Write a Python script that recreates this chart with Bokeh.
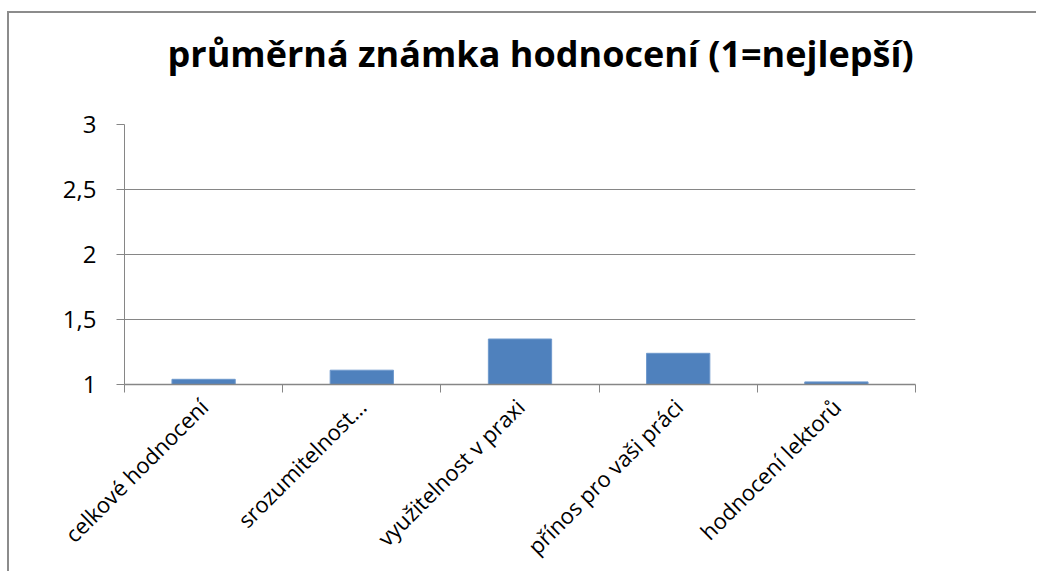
from bokeh.plotting import figure
from bokeh.models import FixedTicker, CustomJSTickFormatter, Range1d, Title
from bokeh.embed import file_html
from bokeh.resources import INLINE
import math

categories = ["celkové hodnocení", "srozumitelnost…", "využitelnost v praxi",
              "přínos pro vaši práci", "hodnocení lektorů"]
values = [1.04, 1.11, 1.35, 1.24, 1.02]
y_ticks = [1, 1.5, 2, 2.5, 3]
title_text = "průměrná známka hodnocení (1=nejlepší)"

xs = [i + 0.5 for i in range(len(categories))]

FONT = "Open Sans"
GRID = "#868686"

p = figure(width=1029, height=560, output_backend="svg", toolbar_location=None,
           x_range=Range1d(0, len(categories)), y_range=Range1d(y_ticks[0], y_ticks[-1]),
           min_border_left=115, min_border_top=111, min_border_right=123, min_border_bottom=189)
p.styles = {"border-left": "2px solid #8c8c8c", "border-top": "2px solid #8c8c8c",
            "border-right": "0px none", "border-bottom": "0px none",
            "position": "relative", "top": "11px", "left": "7px"}

# spacer between frame and title (nearest the frame), then the title itself
p.add_layout(Title(text=" ", text_font_size="1px", standoff=44), "above")
p.add_layout(Title(text=title_text, text_font=FONT, text_font_size="36px",
                   text_font_style="bold", text_color="#000000", align="left",
                   offset=43, vertical_align="bottom", standoff=0), "above")

p.vbar(x=xs, top=values, bottom=y_ticks[0], width=0.4,
       fill_color="#4F81BD", line_color="#6F99CC", line_width=1)

p.outline_line_color = None
p.background_fill_color = "white"
p.border_fill_color = "white"

# y axis
p.yaxis.ticker = FixedTicker(ticks=y_ticks)
p.yaxis.formatter = CustomJSTickFormatter(code="return tick.toString().replace('.', ',');")
p.yaxis.axis_line_color = GRID
p.yaxis.major_tick_line_color = GRID
p.yaxis.major_tick_out = 8
p.yaxis.major_tick_in = 0
p.yaxis.minor_tick_line_color = None
p.yaxis.major_label_text_font = FONT
p.yaxis.major_label_text_font_size = "24px"
p.yaxis.major_label_text_color = "#000000"
p.yaxis.major_label_standoff = 20

p.ygrid.ticker = FixedTicker(ticks=y_ticks)
p.ygrid.grid_line_color = GRID
p.ygrid.grid_line_width = 1
p.xgrid.grid_line_color = None

# x axis: labels at centres, ticks at category boundaries
p.xaxis.ticker = FixedTicker(ticks=xs, minor_ticks=list(range(len(categories) + 1)))
p.xaxis.major_label_overrides = {x: c for x, c in zip(xs, categories)}
p.xaxis.major_tick_line_color = None
p.xaxis.minor_tick_line_color = GRID
p.xaxis.minor_tick_out = 8
p.xaxis.minor_tick_in = 0
p.xaxis.axis_line_color = GRID
p.xaxis.axis_line_width = 1.5
p.xaxis.major_label_orientation = math.pi / 4
p.xaxis.major_label_text_font = FONT
p.xaxis.major_label_text_font_size = "22px"
p.xaxis.major_label_text_color = "#000000"
p.xaxis.major_label_standoff = 10

open("out.html", "w").write(file_html(p, INLINE))
